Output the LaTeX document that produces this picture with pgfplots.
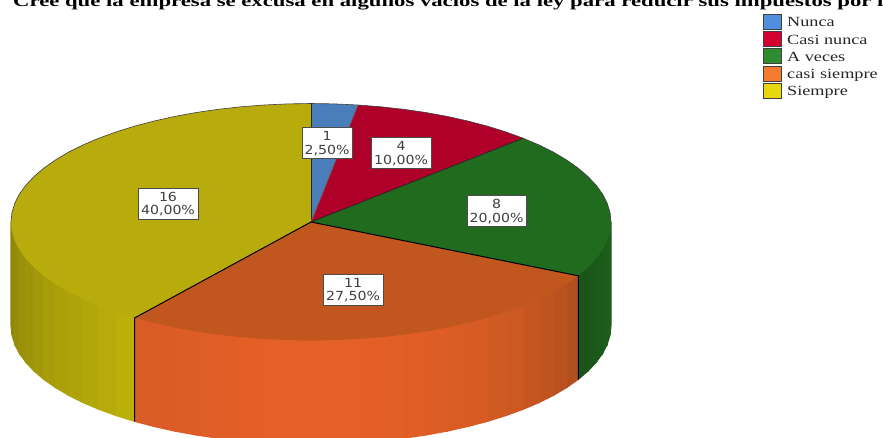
\documentclass[border=0pt]{standalone}
\usepackage{pgfplots}
\pgfplotsset{compat=1.18}
\usepackage{fontspec}
\setmainfont{Liberation Serif}
\newfontfamily\titlef[FakeStretch=1.42]{Liberation Serif}
\newfontfamily\legf[FakeStretch=1.3]{Liberation Serif}
\newfontfamily\labf[FakeStretch=1.13]{DejaVu Sans}
\newcommand\W[4]{\addplot[draw={rgb,255:red,#1;green,#2;blue,#3},fill={rgb,255:red,#1;green,#2;blue,#3},line width=1.1pt] coordinates {#4} -- cycle;}
\newcommand\Sw[4]{\addplot[draw=black!75,line width=1pt,fill=#1] coordinates {(763.5,#2)(781.5,#2)(781.5,#3)(763.5,#3)} -- cycle;
 \node[anchor=base west,font=\legf\fontsize{14}{14}\selectfont,text=black!85,inner sep=0pt] at (axis cs:787,#3-2.5) {#4};}
\newcommand\Lab[5]{\node[draw=black!70,line width=1pt,fill=white,text=black!75,inner sep=0pt,minimum width=#3pt,minimum height=31pt,align=center,font=\labf\fontsize{12.5}{13.5}\selectfont] at (axis cs:#1,#2) {#4\\#5};}
\definecolor{swB}{HTML}{4F8FDD}
\definecolor{swR}{HTML}{D4002F}
\definecolor{swG}{HTML}{2E8B30}
\definecolor{swO}{HTML}{F47A30}
\definecolor{swY}{HTML}{E8D70C}
\definecolor{topB}{HTML}{4A7EBB}
\definecolor{topR}{HTML}{AE0029}
\definecolor{topG}{HTML}{216B1F}
\definecolor{topO}{HTML}{C1561F}
\definecolor{topY}{HTML}{B8AB0C}
\begin{document}
\begin{tikzpicture}
\useasboundingbox (0,0) rectangle (883pt,438pt);
\begin{axis}[at={(0,0)},anchor=south west,scale only axis,width=883pt,height=438pt,
  xmin=0,xmax=883,ymin=0,ymax=438,y dir=reverse,hide axis,clip=true]
% side wall, green slice
\W{30}{94}{28}{(611,222)(610.1,231.3)(610.1,334.8)(611,325.5)}
\W{30}{94}{28}{(610.1,231.3)(607.3,240.5)(607.3,344)(610.1,334.8)}
\W{29}{92}{27}{(607.3,240.5)(602.7,249.7)(602.7,353.2)(607.3,344)}
\W{28}{90}{27}{(602.7,249.7)(596.3,258.6)(596.3,362.1)(602.7,353.2)}
\W{27}{87}{26}{(596.3,258.6)(588.2,267.3)(588.2,370.8)(596.3,362.1)}
\W{26}{84}{25}{(588.2,267.3)(578.3,275.8)(578.3,379.3)(588.2,370.8)}
% side wall, yellow slice
\W{142}{132}{8}{(11.9,231.3)(11,222)(11,325.5)(11.9,334.8)}
\W{146}{136}{8}{(14.7,240.5)(11.9,231.3)(11.9,334.8)(14.7,344)}
\W{150}{140}{9}{(19.3,249.7)(14.7,240.5)(14.7,344)(19.3,353.2)}
\W{154}{144}{9}{(25.7,258.6)(19.3,249.7)(19.3,353.2)(25.7,362.1)}
\W{158}{148}{9}{(33.8,267.3)(25.7,258.6)(25.7,362.1)(33.8,370.8)}
\W{162}{152}{9}{(43.7,275.8)(33.8,267.3)(33.8,370.8)(43.7,379.3)}
\W{167}{156}{10}{(55.2,283.9)(43.7,275.8)(43.7,379.3)(55.2,387.4)}
\W{171}{160}{10}{(68.3,291.7)(55.2,283.9)(55.2,387.4)(68.3,395.2)}
\W{174}{163}{10}{(82.9,299)(68.3,291.7)(68.3,395.2)(82.9,402.5)}
\W{178}{167}{10}{(98.9,305.8)(82.9,299)(82.9,402.5)(98.9,409.3)}
\W{182}{171}{10}{(116.2,312.1)(98.9,305.8)(98.9,409.3)(116.2,415.6)}
\W{187}{176}{10}{(134.7,317.9)(116.2,312.1)(116.2,415.6)(134.7,421.4)}
% side wall, orange slice
\W{178}{79}{30}{(578.3,275.8)(566.8,283.9)(566.8,387.4)(578.3,379.3)}
\W{186}{82}{31}{(566.8,283.9)(553.7,291.7)(553.7,395.2)(566.8,387.4)}
\W{192}{84}{32}{(553.7,291.7)(539.1,299)(539.1,402.5)(553.7,395.2)}
\W{198}{86}{33}{(539.1,299)(523.1,305.8)(523.1,409.3)(539.1,402.5)}
\W{204}{88}{34}{(523.1,305.8)(505.8,312.1)(505.8,415.6)(523.1,409.3)}
\W{209}{90}{35}{(505.8,312.1)(487.3,317.9)(487.3,421.4)(505.8,415.6)}
\W{214}{91}{36}{(487.3,317.9)(467.8,323)(467.8,426.5)(487.3,421.4)}
\W{218}{92}{37}{(467.8,323)(447.2,327.6)(447.2,431.1)(467.8,426.5)}
\W{222}{93}{38}{(447.2,327.6)(425.8,331.5)(425.8,435)(447.2,431.1)}
\W{224}{94}{38}{(425.8,331.5)(403.7,334.7)(403.7,438.2)(425.8,435)}
\W{226}{95}{38}{(403.7,334.7)(381,337.2)(381,440.7)(403.7,438.2)}
\W{227}{95}{38}{(381,337.2)(357.9,339)(357.9,442.5)(381,440.7)}
\W{228}{96}{38}{(357.9,339)(334.5,340.1)(334.5,443.6)(357.9,442.5)}
\W{228}{96}{38}{(334.5,340.1)(311,340.5)(311,444)(334.5,443.6)}
\W{228}{96}{38}{(311,340.5)(287.5,340.1)(287.5,443.6)(311,444)}
\W{228}{96}{38}{(287.5,340.1)(264.1,339)(264.1,442.5)(287.5,443.6)}
\W{227}{95}{38}{(264.1,339)(241,337.2)(241,440.7)(264.1,442.5)}
\W{225}{94}{38}{(241,337.2)(218.3,334.7)(218.3,438.2)(241,440.7)}
\W{223}{93}{38}{(218.3,334.7)(196.2,331.5)(196.2,435)(218.3,438.2)}
\W{222}{93}{38}{(196.2,331.5)(174.8,327.6)(174.8,431.1)(196.2,435)}
\W{219}{92}{37}{(174.8,327.6)(154.2,323)(154.2,426.5)(174.8,431.1)}
\W{217}{91}{37}{(154.2,323)(134.7,317.9)(134.7,421.4)(154.2,426.5)}
% top faces: 1, 4, 8, 11, 16 of 40
\addplot[fill=topB,draw=none] coordinates {(311,222)(311,103.5)(334.5,103.9)(357.9,105)} -- cycle;
\addplot[fill=topR,draw=none] coordinates {(311,222)(357.9,105)(381,106.8)(403.7,109.3)(425.8,112.5)(447.2,116.4)(467.8,121)(487.3,126.1)(505.8,131.9)(523.1,138.2)} -- cycle;
\addplot[fill=topG,draw=none] coordinates {(311,222)(523.1,138.2)(539.1,145)(553.7,152.3)(566.8,160.1)(578.3,168.2)(588.2,176.7)(596.3,185.4)(602.7,194.3)(607.3,203.5)(610.1,212.7)(611,222)(610.1,231.3)(607.3,240.5)(602.7,249.7)(596.3,258.6)(588.2,267.3)(578.3,275.8)} -- cycle;
\addplot[fill=topO,draw=none] coordinates {(311,222)(578.3,275.8)(566.8,283.9)(553.7,291.7)(539.1,299)(523.1,305.8)(505.8,312.1)(487.3,317.9)(467.8,323)(447.2,327.6)(425.8,331.5)(403.7,334.7)(381,337.2)(357.9,339)(334.5,340.1)(311,340.5)(287.5,340.1)(264.1,339)(241,337.2)(218.3,334.7)(196.2,331.5)(174.8,327.6)(154.2,323)(134.7,317.9)} -- cycle;
\addplot[fill=topY,draw=none] coordinates {(311,222)(134.7,317.9)(116.2,312.1)(98.9,305.8)(82.9,299)(68.3,291.7)(55.2,283.9)(43.7,275.8)(33.8,267.3)(25.7,258.6)(19.3,249.7)(14.7,240.5)(11.9,231.3)(11,222)(11.9,212.7)(14.7,203.5)(19.3,194.3)(25.7,185.4)(33.8,176.7)(43.7,168.2)(55.2,160.1)(68.3,152.3)(82.9,145)(98.9,138.2)(116.2,131.9)(134.7,126.1)(154.2,121)(174.8,116.4)(196.2,112.5)(218.3,109.3)(241,106.8)(264.1,105)(287.5,103.9)(311,103.5)} -- cycle;
% rim and slice edges
\addplot[draw=black!75,line width=.6pt] coordinates {(11,222)(11.9,212.7)(14.7,203.5)(19.3,194.3)(25.7,185.4)(33.8,176.7)(43.7,168.2)(55.2,160.1)(68.3,152.3)(82.9,145)(98.9,138.2)(116.2,131.9)(134.7,126.1)(154.2,121)(174.8,116.4)(196.2,112.5)(218.3,109.3)(241,106.8)(264.1,105)(287.5,103.9)(311,103.5)(334.5,103.9)(357.9,105)(381,106.8)(403.7,109.3)(425.8,112.5)(447.2,116.4)(467.8,121)(487.3,126.1)(505.8,131.9)(523.1,138.2)(539.1,145)(553.7,152.3)(566.8,160.1)(578.3,168.2)(588.2,176.7)(596.3,185.4)(602.7,194.3)(607.3,203.5)(610.1,212.7)(611,222)};
\addplot[draw=black!85,line width=1pt] coordinates {(311,103.5)(311,222)};
\addplot[draw=black!60,line width=.7pt] coordinates {(357.9,105)(311,222)};
\addplot[draw=black!85,line width=.8pt] coordinates {(523.1,138.2)(311,222)};
\addplot[draw=black,line width=1pt] coordinates {(578.3,379.3)(578.3,275.8)(311,222)(134.7,317.9)(134.7,421.4)};
% value labels
\Lab{327}{143.5}{50}{1}{2,50\%}
\Lab{401}{153.5}{60}{4}{10,00\%}
\Lab{496.5}{211.5}{59}{8}{20,00\%}
\Lab{353}{290}{60}{11}{27,50\%}
\Lab{168}{204}{60}{16}{40,00\%}
% legend
\Sw{swB}{14.5}{29.5}{Nunca}
\Sw{swR}{32}{47}{Casi nunca}
\Sw{swG}{49}{64}{A veces}
\Sw{swO}{66.5}{81.5}{casi siempre}
\Sw{swY}{83.5}{98.5}{Siempre}
% title
\node[anchor=base west,inner sep=0pt,font=\titlef\bfseries\fontsize{16}{16}\selectfont,text=black] at (axis cs:13,7) {Cree que la empresa se excusa en algunos vacíos de la ley para reducir sus impuestos por la};
\end{axis}
\end{tikzpicture}
\end{document}
